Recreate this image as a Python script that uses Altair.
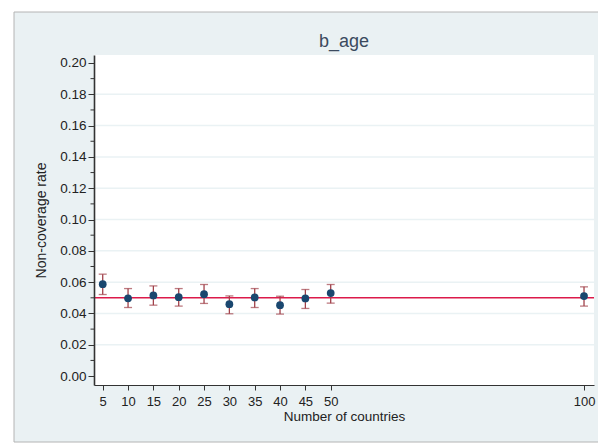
import pandas as pd
import altair as alt

# values
n_countries = [5, 10, 15, 20, 25, 30, 35, 40, 45, 50, 100]
rate = [0.0587, 0.0497, 0.0515, 0.0504, 0.0523, 0.0459, 0.0502, 0.0453, 0.0496, 0.0530, 0.0511]
lower = [0.0521, 0.0438, 0.0453, 0.0447, 0.0464, 0.0398, 0.0438, 0.0396, 0.0432, 0.0466, 0.0447]
upper = [0.0651, 0.0559, 0.0576, 0.0559, 0.0585, 0.0512, 0.0559, 0.0510, 0.0553, 0.0585, 0.0570]
nominal = [0.05]
y_ticks = [0.00, 0.02, 0.04, 0.06, 0.08, 0.10, 0.12, 0.14, 0.16, 0.18, 0.20]
y_minor = [0.01, 0.03, 0.05, 0.07, 0.09, 0.11, 0.13, 0.15, 0.17, 0.19]
grid_at = [0.02, 0.04, 0.06, 0.08, 0.10, 0.12, 0.14, 0.16, 0.18]
x_ticks = [5, 10, 15, 20, 25, 30, 35, 40, 45, 50, 100]

W, H = 500, 330
FONT = "Liberation Sans"
NAVY = "#1a476f"
MAROON = "#a1414a"
RED = "#dc1a4a"
FRAME = "#eaf1f3"

df = pd.DataFrame({"n": n_countries, "rate": rate, "lo": lower, "hi": upper})
one = pd.DataFrame({"k": [0]})

xscale = alt.Scale(domain=[3.28, 101.97], nice=False, zero=False)
yscale = alt.Scale(domain=[-0.0057, 0.2051], nice=False, zero=False)

xaxis = alt.Axis(
    values=x_ticks, format="d", grid=False, labelFlush=False, labelOverlap=False,
    labelFont=FONT, labelFontSize=13, labelColor="#222", labelPadding=5,
    tickSize=5, tickColor="#333", domainColor="#333", domainWidth=1.2,
    titleFont=FONT, titleFontSize=13.5, titleFontWeight="normal", titleColor="#222",
    titlePadding=1, zindex=2,
)
yaxis = alt.Axis(
    values=y_ticks, format=".2f", grid=False, labelFlush=False, labelOverlap=False,
    labelFont=FONT, labelFontSize=13.5, labelColor="#222", labelPadding=2,
    tickSize=6, tickColor="#333", domainColor="#333", domainWidth=1.6,
    titleFont=FONT, titleFontSize=14, titleFontWeight="normal", titleColor="#222",
    titlePadding=11, zindex=2,
)


def X(field):
    return alt.X(field, type="quantitative", scale=xscale, axis=xaxis, title="Number of countries")


def Y(field):
    return alt.Y(field, type="quantitative", scale=yscale, axis=yaxis, title="Non-coverage rate")


# graph region (outer box) and plot region
frame = alt.Chart(one).mark_rect(fill=FRAME, stroke="#b4b4b4", strokeWidth=1).encode(
    x=alt.value(-80), x2=alt.value(520), y=alt.value(-43), y2=alt.value(387)
)
plot_bg = alt.Chart(one).mark_rect(fill="white").encode(
    x=alt.value(0), x2=alt.value(W), y=alt.value(0), y2=alt.value(H)
)

grid = alt.Chart(pd.DataFrame({"g": grid_at})).mark_rule(color="#eaf2f4", strokeWidth=1.5).encode(
    y=Y("g")
)

minor = alt.Chart(pd.DataFrame({"m": y_minor})).mark_rule(color="#333", strokeWidth=1).encode(
    x=alt.value(-3.5), x2=alt.value(0), y=Y("m")
)

ref_line = alt.Chart(pd.DataFrame({"r": nominal})).mark_rule(color=RED, strokeWidth=1.4).encode(
    y=Y("r")
)

bars = alt.Chart(df).mark_rule(color=MAROON, strokeWidth=1.3).encode(
    x=X("n"), y=Y("lo"), y2="hi"
)
cap_lo = alt.Chart(df).mark_tick(color=MAROON, orient="horizontal", size=8, thickness=1.3).encode(
    x=X("n"), y=Y("lo")
)
cap_hi = alt.Chart(df).mark_tick(color=MAROON, orient="horizontal", size=8, thickness=1.3).encode(
    x=X("n"), y=Y("hi")
)

points = alt.Chart(df).mark_point(filled=True, shape="circle", size=60, color=NAVY, opacity=1).encode(
    x=X("n"), y=Y("rate")
)

title = alt.Chart(pd.DataFrame({"t": ["b_age"]})).mark_text(
    font=FONT, fontSize=18, color="#3b4a5e", align="center", baseline="alphabetic"
).encode(x=alt.value(W / 2), y=alt.value(-8), text="t:N")

chart = (
    alt.layer(frame, plot_bg, grid, minor, ref_line, bars, cap_lo, cap_hi, points, title)
    .properties(
        width=W,
        height=H,
        autosize=alt.AutoSizeParams(type="none"),
        padding={"left": 86, "top": 47, "right": 4, "bottom": 58},
        background="white",
    )
    .configure_view(strokeWidth=0, fill=None)
)

chart.save("out.html", embed_options={"renderer": "svg", "actions": False})
